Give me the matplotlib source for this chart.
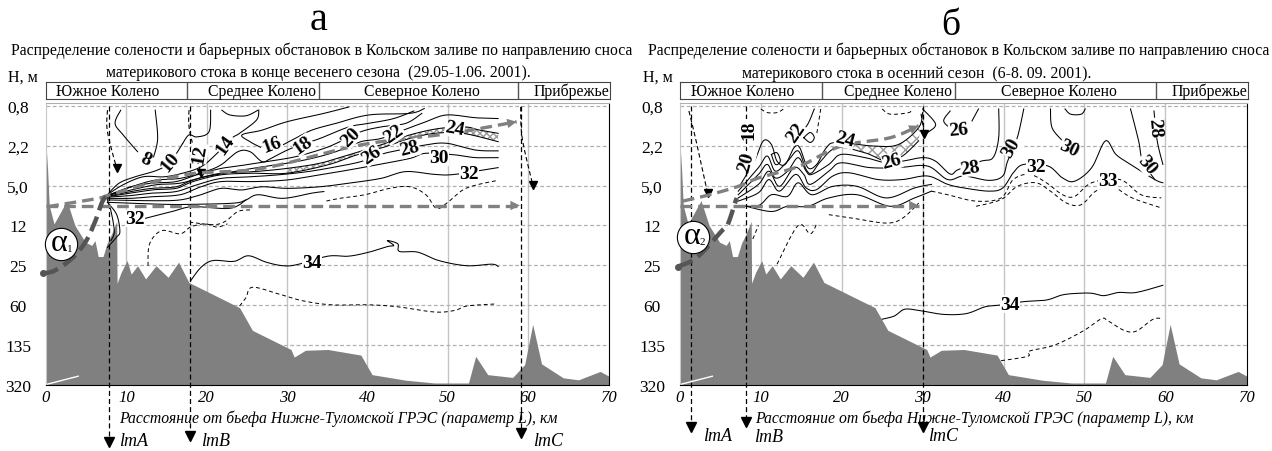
import numpy as np
import matplotlib
matplotlib.use("Agg")
import matplotlib.pyplot as plt

plt.rcParams['font.family'] = ['Liberation Serif', 'DejaVu Serif']

# Vertical scale: evenly spaced levels, labelled by depth
depth_labels = ['0,8', '2,2', '5,0', '12', '25', '60', '135', '320']
km_ticks = [0, 10, 20, 30, 40, 50, 60, 70]
zone_edges = [17.6, 34.0, 58.8]
zone_names = ['Южное Колено', 'Среднее Колено', 'Северное Колено', 'Прибрежье']
zone_centers = [7.7, 26.9, 46.8, 65.4]

terrain = [(0,.95),(.2,1.6),(.4,2.5),(1,2.96),(2.6,2.38),(3.6,3),(4.9,3.42),(5.7,3.5),(6.1,3.38),(6.5,3.78),
           (7.1,3.78),(7.6,3.45),(8.2,3.2),(8.8,2.9),(8.85,4.45),(9.34,4.18),(10.1,3.88),(10.6,4.22),(11.4,4.01),
           (12.4,4.34),(13.7,4.01),(15.2,4.3),(16.5,3.92),(17.8,4.43),(24.1,5.06),(25.7,5.63),(30.5,6.11),
           (30.9,6.3),(32.3,6.13),(35.1,6.11),(39.2,6.25),(40.6,6.74),(44.8,6.88),(48.4,6.95),(52.6,6.95),
           (53.5,6.28),(55,6.74),(58.1,6.81),(59.6,6.49),(60.6,5.48),(61.7,6.47),(64.4,6.82),(66.3,6.87),
           (69,6.66),(70.1,6.78)]
sliver = [(.15,6.98),(4,6.78)]

# Panel a: isohalines (km, level)
a_8a = [(9.3,.11),(8.6,.44),(9.6,.73),(11.4,1.15)]
a_8b = [(13.4,1.28),(13.9,.82),(13.6,.11)]
a_12 = [(20.5,.11),(20.3,.65),(18.8,.78),(17.8,.73),(17,.95)]
a_10 = [(7.65,2.23),(9.1,1.94),(11.1,1.78),(13.9,1.61),(15.5,1.4),(17,.95)]
a_b = [(21.9,.11),(22.9,.23),(24.9,.25),(26.4,.11)]
a_c = [(26.5,.11),(26.2,.36),(24.1,.69),(23.1,.82),(21.1,1.23),(19.3,1.53),(17,1.69),(14.7,1.78),(12.1,1.78),(9.6,1.98),(7.65,2.23)]
a_d = [(37.7,.03),(34.6,.19),(30,.4),(26.9,.61),(24.4,.73),(25.4,.9),(26.7,1.04)]
a_e = [(29.5,.98),(31,.82),(33.1,.61),(36.1,.44),(40.2,.23),(45.3,.19),(47.1,.07)]
a_f = [(45.8,.13),(43.3,.32),(40.2,.44),(37.7,.53),(34.1,.82),(30.5,1.07),(28,1.32),(26.9,1.4),(25.4,1.15),(23.9,1.15),(21.8,1.48),(19.8,1.65),(16.7,1.82),(13.7,1.86),(11.1,2),(7.65,2.25)]
a_g = [(46.8,.19),(44.8,.44),(41.7,.53),(39.2,.65),(36.6,.9),(34.6,1.07),(31,1.28),(27.4,1.4),(24.9,1.48),(21.8,1.57),(18.8,1.73),(16.2,1.9),(13.2,1.94),(10.6,2.03),(7.65,2.25)]
a_h = [(56.3,.32),(53.5,.3),(49.9,.23),(47.3,.4),(44.5,.61),(41.7,.82),(39.2,.9),(36.1,1.15),(33.1,1.32),(30,1.44),(26.9,1.53),(23.4,1.65),(19.8,1.78),(16.7,1.94),(13.7,1.98),(10.6,2.11),(7.65,2.25)]
a_i = [(56.3,.69),(54,.61),(52.2,.53),(48.9,.57),(45.3,.73),(41.7,.98),(37.7,1.23),(34.1,1.44),(30,1.57),(25.9,1.65),(21.8,1.69),(18.3,1.86),(16.2,2.03),(13.2,2.07),(10.6,2.15),(7.65,2.27)]
a_j = [(56.3,.9),(51.9,.69),(48.4,.69),(45.3,.82),(42.2,1.03),(38.7,1.23),(35.1,1.48),(30,1.69),(25.9,1.69),(21.8,1.73),(18.3,1.9),(16.2,2.07),(13.2,2.11),(7.65,2.28)]
a_k = [(56.3,1.13),(53.5,1.11),(49.9,.94),(47.3,.98),(44,1.11),(42.2,1.19),(39.2,1.4),(36.1,1.53),(32.6,1.65),(29,1.73),(25.4,1.78),(21.8,1.82),(18.8,1.98),(16.2,2.15),(13.2,2.19),(10.6,2.25),(7.65,2.29)]
a_l = [(56.3,1.3),(53.5,1.3),(50.9,1.23),(47.3,1.19),(45.3,1.32),(41.2,1.48),(37.7,1.61),(34.1,1.73),(30,1.86),(25.9,1.9),(21.8,1.9),(19.3,2.03),(16.7,2.23),(13.2,2.28),(10.6,2.32),(7.65,2.32)]
a_m = [(56.3,1.55),(50.9,1.72),(48.4,1.72),(44.8,1.65),(41.7,1.82),(37.7,1.94),(34.1,2.03),(30,2.07),(26.9,2.03),(24.4,2.11),(21.8,2.07),(19.3,2.23),(16.7,2.36),(13.2,2.38),(7.65,2.36)]
a_n = [(34.6,2.15),(33.1,2.19),(29.5,2.32),(26.4,2.23),(24.9,2.36),(23.4,2.44),(18.3,2.47),(14.7,2.47),(7.65,2.42)]
a_32 = [(12.4,2.82),(15.7,2.65),(18.3,2.53),(22.9,2.57),(24.9,2.36)]
a_b1 = [(7.65,2.42),(8.8,2.73),(9.2,3.15),(8.8,3.29),(7.65,3.55)]
a_b2 = [(7.65,2.36),(8.1,2.65),(8.5,3.15),(8.1,3.38)]
a_34 = [(18,4.39),(19.3,4.05),(20.8,3.88),(23.4,3.9),(25.2,3.76),(27.4,3.92),(29.5,4.01),(31.3,3.98),(35.1,3.77),(37.7,3.77),(40.2,3.67),(42.5,3.53),(43.3,3.5),(42.5,3.38),(43.8,3.46),(44,3.65),(46.3,3.67),(48.9,3.88),(52.4,4.01),(55.5,3.97),(56.3,4.03)]
a_d1 = [(56,1.88),(53.7,1.98),(51.9,2.11),(49.9,2.44),(48.6,2.57),(47.3,2.23),(45.3,2.03),(42.8,2.07),(39.7,2.23),(36.6,2.32),(34.6,2.4)]
a_d2 = [(25.4,2.61),(23.9,2.65),(22.3,2.9),(20.8,2.98),(18,2.92)]
a_d3 = [(12.7,4.01),(12.9,3.46),(14.4,3.13),(16.7,3.21),(18,3.04),(19.8,2.96),(21.3,3.04),(22.6,2.96)]
a_d4 = [(24.1,5.02),(24.9,4.81),(25.7,4.55),(29,4.72),(32,4.89),(35.6,4.99),(40.2,4.99),(43.8,5.04),(48.4,5.17),(50.9,5.13),(52.4,5.02),(55.8,4.97)]
a_labels = ['8','10','12','14','16','18','20','22','24','26','28','30','32','32','34']
a_label_x = [12.4,15.5,19.1,22.3,28.2,32,37.9,43.3,50.9,40.5,45.3,48.9,52.7,11.1,33.1]
a_label_y = [1.33,1.4,1.19,.96,.98,.98,.78,.69,.57,1.23,1.07,1.3,1.69,2.82,3.92]
a_label_rot = [-25,50,80,55,20,35,45,35,-10,35,15,0,0,0,0]
a_lm_x = [7.9,17.9,59.1]
a_lm_tip = [8.42,8.28,8.2]
a_lm_names = ['lmA','lmB','lmC']
a_lm_text_x = [9.1,19.3,60.6]
a_lm_text_y = [8.4,8.4,8.4]
a_inner1 = [(7.65,.11),(7.65,.65),(8.8,1.57)]
a_inner2 = [(17.8,.11),(17.9,.65),(19.3,1.69)]
a_inner3 = [(59.1,.03),(59.3,.82),(60.6,1.98)]
a_flow_h = [(0,2.5),(59,2.5)]
a_flow_up = [(.15,2.53),(6.5,2.32),(8,2.23),(17.2,1.73),(26.9,1.57),(39.2,.98),(50.4,.69),(58.6,.4)]
a_alpha_line = [(-.35,4.2),(1.1,4.13),(3.2,3.83),(4.9,3.42),(6.1,2.91),(7,2.41),(7.65,2.25)]
a_alpha_at = (1.84,3.46)

# Panel b: isohalines (km, level)
b_w1 = [(7.5,1.97),(9.2,1.39),(10.3,.88),(11.3,.97),(12,1.39),(13,1.47),(14.1,1.05),(14.8,1.05),(15.8,1.55),(16.9,1.47),(18.1,1.05),(19.4,.92),(24,1.01),(27,.97),(29.5,.55),(30,.17)]
b_w2 = [(7.2,2.14),(9.7,1.55),(10.8,1.26),(11.8,1.64),(13.3,1.39),(14.6,1.13),(15.6,1.6),(16.3,1.68),(17.4,1.39),(19.4,1.05),(22.9,1.18),(25.5,1.39),(27.5,1.26),(29.5,.88)]
b_w3 = [(7.2,2.23),(9.7,1.72),(10.8,1.47),(11.8,1.81),(13.3,1.64),(14.6,1.3),(15.6,1.64),(16.3,1.72),(18.4,1.47),(19.9,1.22),(22.9,1.3),(25.5,1.43),(27.5,1.39),(30,1.3),(31.6,1.39),(33.4,1.71),(34.4,1.6),(37.2,1.39),(38.7,1.3),(39.4,.8),(39.4,.08)]
b_w4 = [(7.2,2.31),(9.7,1.97),(11,1.64),(12.3,2.02),(14.1,1.55),(15.3,1.72),(16.1,1.97),(18.4,1.64),(19.9,1.43),(23.5,1.55),(27,1.55),(30.6,1.51),(33.1,1.85),(35.1,1.76),(38.2,1.87),(39.9,1.76),(40.5,1.39),(41.7,.8),(42.5,.08)]
b_w5 = [(7.2,2.39),(9.7,2.18),(11,1.85),(12.3,2.14),(14.3,1.72),(15.6,2.06),(16.9,2.1),(18.9,1.76),(20.9,1.68),(24.5,1.85),(27.5,1.85),(30.6,1.76),(33.1,1.97),(35.1,2.06),(38.2,2.14),(39.9,2.06),(41.2,1.68),(42.5,1.47),(45.5,1.51),(47.3,1.81),(48.8,1.89),(50.9,1.55),(52.6,.88),(53.9,1.22),(55.7,1.47),(58.7,1.85),(59.7,1.93)]
b_w6 = [(7.2,2.5),(9.7,2.5),(11.3,2.23),(13.3,2.27),(14.6,1.93),(16.3,2.23),(18.9,2.02),(21.9,2.02),(25.5,2.31),(29,2.06),(31.1,1.97)]
b_w7 = [(8.2,2.52),(11.3,2.65),(13.3,2.52),(15.8,2.52),(18.4,2.31),(21.9,2.23),(26,2.52),(29,2.31),(31.1,2.14)]
b_t5 = [(16.6,.08),(15.8,.46),(14.8,.71)]
b_loop1 = [(11.3,1.22),(12,1.18),(12.4,1.39),(11.8,1.47),(11.3,1.22)]
b_loop2 = [(15.3,.8),(16.1,.67),(16.6,.8),(16.1,.92),(15.3,.8)]
b_26a = [(36.9,.08),(36.1,.38)]
b_26b = [(33.4,.13),(32.6,.38),(33.6,.59)]
b_29 = [(30,.08),(31.6,.46),(30.6,.67)]
b_30a = [(45.8,.08),(46,.55),(47.3,.88)]
b_bulge = [(47.6,.08),(48.3,.21),(49.6,.21),(50.1,.08)]
b_28a = [(55.7,.08),(56.7,.88),(57.2,1.39),(58.7,1.85)]
b_28b = [(58.6,.13),(59,.88),(59.7,1.47)]
b_34 = [(25,5.35),(26.5,5.27),(27.8,5.1),(29.8,5.14),(32.6,5.23),(35.4,5.21),(37.7,5.04),(39.4,5),(42.5,4.91),(45.3,4.87),(47.3,4.74),(49.3,4.7),(50.9,4.7),(52.4,4.76),(54.2,4.68),(56.4,4.68),(59.7,4.5)]
b_d1 = [(31.1,2.14),(33.1,2.23),(36.6,2.39),(39.7,2.31),(41.2,1.85),(43.2,1.72),(45.3,1.93),(47.3,2.23),(48.8,2.27),(50.9,1.93),(54.4,1.85),(57,2.23),(59.5,2.31)]
b_d2 = [(36.6,2.52),(39.7,2.35),(41.7,2.02),(44,1.93),(45.8,2.14),(47.8,2.44),(49.6,2.48),(51.4,2.14),(53.4,2.02),(55.9,2.31),(59.5,2.56)]
b_d3 = [(18.4,2.73),(21.4,2.82),(25.5,2.94),(27.5,2.82),(29.5,2.44)]
b_d4 = [(12,3.97),(14.6,3),(16.1,3.21),(16.9,2.96)]
b_d5 = [(9,3.34),(9.7,3)]
b_d6 = [(10,.08),(10.8,.17),(12,.17),(12.8,.08)]
b_d7 = [(17.4,.08),(16.9,.71)]
b_d8 = [(25,.08),(26,.21),(28.3,.17),(28.5,.08)]
b_d9 = [(39.7,6.39),(43,6.28),(43.2,6.15),(46.3,6),(49.8,5.65),(52.1,5.34),(52.9,5.39),(54.9,5.63),(56.4,5.65),(58.5,5.35),(59.7,5.34)]
b_labels = ['18','20','22','24','26','26','28','30','30','32','33','28','30','34']
b_label_x = [8.5,8.2,14.3,20.4,26.2,34.4,35.9,41,48.1,44,52.9,58.7,57.7,40.8]
b_label_y = [.59,1.39,.67,.84,1.39,.59,1.55,1.05,1.05,1.51,1.87,.55,1.47,4.97]
b_label_rot = [90,75,55,-15,15,5,10,60,-25,0,0,-85,-50,0]
b_lm_x = [1.3,8.2,30]
b_lm_tip = [8.05,7.92,8.05]
b_lm_names = ['lmA','lmB','lmC']
b_lm_text_x = [2.9,9.2,30.7]
b_lm_text_y = [8.27,8.3,8.27]
b_inner1 = [(1.1,.13),(1.9,.8),(3.4,2.18)]
b_inner2 = [(29.8,.2),(30.2,.7)]
b_flow_h = [(0,2.5),(29.5,2.5)]
b_flow_up = [(.35,2.39),(3.65,2.23),(7.2,2.02),(9.7,1.81),(14.8,1.51),(19.9,1.01),(26,.8),(29.5,.5)]
b_alpha_line = [(-.25,4.03),(2.1,3.8),(5.2,3.13),(5.9,2.98),(7,2.31)]
b_alpha_at = (1.6,3.29)

a_solid = [a_8a,a_8b,a_12,a_10,a_b,a_c,a_d,a_e,a_f,a_g,a_h,a_i,a_j,a_k,a_l,a_m,a_n,a_32,a_b1,a_b2,a_34]
a_dashed = [a_d1,a_d2,a_d3,a_d4]
b_solid = [b_w1,b_w2,b_w3,b_w4,b_w5,b_w6,b_w7,b_t5,b_loop1,b_loop2,b_26a,b_26b,b_29,b_30a,b_bulge,b_28a,b_28b,b_34]
b_dashed = [b_d1,b_d2,b_d3,b_d4,b_d5,b_d6,b_d7,b_d8,b_d9]

W, H = 1272, 452
fig = plt.figure(figsize=(W/100, H/100), dpi=100)
GRAY = '#808080'
DARK = '#555555'


def xy(p):
    a = np.array(p, dtype=float)
    return a[:, 0], a[:, 1]


def curve(p, n=10):
    """Draw a digitised isoline as a smooth Catmull-Rom curve through its points."""
    a = np.array(p, dtype=float)
    if len(a) < 3:
        return a[:, 0], a[:, 1]
    b = np.vstack([a[0], a, a[-1]])
    out = []
    for i in range(1, len(b) - 2):
        p0, p1, p2, p3 = b[i-1], b[i], b[i+1], b[i+2]
        for t in np.linspace(0, 1, n, endpoint=False):
            out.append(0.5*((2*p1) + (p2-p0)*t + (2*p0-5*p1+4*p2-p3)*t*t + (3*p1-p0-3*p2+p3)*t**3))
    out.append(a[-1])
    out = np.array(out)
    return out[:, 0], out[:, 1]


def panel(x0, x1, solid, dashed, labels, lx, ly, lr, lm_x, lm_tip, lm_names, lm_tx, lm_ty,
          inner, flow_h, flow_up, alpha_line, alpha_at, sub, band, band_from, hatch):
    ax = fig.add_axes([x0/W, 1-386/H, (x1-x0)/W, 282/H])
    ax.set_xlim(0, 70.1)
    ax.set_ylim(7, -0.07)
    ax.set_xticks(km_ticks)
    ax.set_xticklabels([str(k) for k in km_ticks], style='italic', fontsize=12)
    ax.set_yticks(range(8))
    ax.set_yticklabels(depth_labels, fontsize=12.5, ha='center')
    ax.tick_params(axis='x', length=0, pad=3)
    ax.tick_params(axis='y', length=0, pad=20)
    for k in km_ticks[1:-1]:
        ax.axvline(k, color='#c4c4c4', lw=1, zorder=1)
    for lev in range(7):
        ax.axhline(lev, color='#b0b0b0', lw=0.9, ls=(0, (3, 2)), zorder=1)
    for s, c in (('left', '#c8c8c8'), ('top', '#b0b0b0'), ('right', 'black'), ('bottom', 'black')):
        ax.spines[s].set_color(c)
    tx, ty = xy(terrain)
    ax.fill_between(tx, ty, 7, color=GRAY, lw=0, zorder=1.5)
    sx, sy = xy(sliver)
    ax.plot(sx, sy, color='white', lw=1, zorder=1.6)

    ux, uy = curve(band[0]); dx, dy = curve(band[1])
    m1, m2 = ux >= band_from, dx >= band_from
    ax.fill(np.r_[ux[m1], dx[m2][::-1]], np.r_[uy[m1], dy[m2][::-1]], facecolor='none',
            edgecolor='#9a9a9a', hatch=hatch, lw=0, zorder=1.8)

    for line in solid:
        ax.plot(*curve(line), color='black', lw=0.75, zorder=2)
    for line in dashed:
        ax.plot(*curve(line), color='black', lw=0.7, ls=(0, (4, 3)), zorder=2)

    for x, tip in zip(lm_x, lm_tip):
        ax.plot([x, x], [0, tip], color='black', lw=0.9, ls=(0, (4, 2.5)), clip_on=False, zorder=3)
        ax.plot([x], [tip], marker='v', ms=7, color='black', clip_on=False, zorder=3)
    for n, x, y in zip(lm_names, lm_tx, lm_ty):
        ax.text(x, y, n, style='italic', fontsize=13, va='center', ha='left', clip_on=False)
    for line in inner:
        lx_, ly_ = curve(line)
        ax.plot(lx_, ly_, color='black', lw=0.8, ls=(0, (4, 2.5)), zorder=3)
        ax.plot(lx_[-1:], ly_[-1:], marker='v', ms=5.5, color='black', zorder=3)

    for line in (flow_h, flow_up):
        fx, fy = curve(line)
        ax.plot(fx, fy, color=GRAY, lw=2.4, ls=(0, (3.5, 1.8)), zorder=4, clip_on=False)
        ax.annotate('', xy=(fx[-1], fy[-1]), xytext=(fx[-2], fy[-2]),
                    arrowprops=dict(arrowstyle='-|>', color=GRAY, lw=0, mutation_scale=17, shrinkA=0, shrinkB=0), zorder=4)
    ax.plot(*curve(alpha_line), color=DARK, lw=3.2, ls=(0, (3.5, 1.5)), clip_on=False, zorder=4)
    ax.plot([alpha_line[0][0]], [alpha_line[0][1]], 'o', ms=4, color=DARK, clip_on=False, zorder=4)

    ax.scatter([alpha_at[0]], [alpha_at[1]], s=540, facecolor='white', edgecolor='black', lw=0.8, clip_on=False, zorder=5)
    ax.text(alpha_at[0]-.15, alpha_at[1]-.03, '\u03b1', fontsize=23, ha='center', va='center', zorder=6, clip_on=False)
    ax.text(alpha_at[0]+1.15, alpha_at[1]+.12, sub, fontsize=8, ha='center', va='center', zorder=6, clip_on=False)

    for t, x, y, r in zip(labels, lx, ly, lr):
        ax.text(x, y, t, fontsize=14, fontweight='bold', rotation=r,
                ha='center', va='center', zorder=4.5,
                bbox=dict(facecolor='white', edgecolor='none', pad=0.2))
    ax.text(36.4, 7.83, 'Расстояние от бьефа Нижне-Туломской ГРЭС (параметр L), км',
            style='italic', fontsize=11.3, ha='center', va='center', clip_on=False, zorder=2.5)

    hd = fig.add_axes([x0/W, 1-100/H, (x1+1-x0)/W, 17/H], facecolor='white')
    hd.set_xlim(0, 70.2)
    hd.set_ylim(0, 1)
    hd.set_xticks([]); hd.set_yticks([])
    for e in zone_edges:
        hd.axvline(e, color='#555555', lw=1)
    for s in hd.spines.values():
        s.set_color('#444444')
    for n, c in zip(zone_names, zone_centers):
        hd.text(c, 0.24, n, fontsize=11.3, ha='center', va='baseline')
    return ax


panel(46, 609, a_solid, a_dashed, a_labels, a_label_x, a_label_y, a_label_rot, a_lm_x, a_lm_tip, a_lm_names,
      a_lm_text_x, a_lm_text_y, [a_inner1, a_inner2, a_inner3], a_flow_h, a_flow_up, a_alpha_line, a_alpha_at,
      '1', (a_i, a_j), 30, 'xxxxx')
panel(680, 1247, b_solid, b_dashed, b_labels, b_label_x, b_label_y, b_label_rot, b_lm_x, b_lm_tip, b_lm_names,
      b_lm_text_x, b_lm_text_y, [b_inner1, b_inner2], b_flow_h, b_flow_up, b_alpha_line, b_alpha_at,
      '2', (b_w1, b_w2), 19.4, 'xxx')


def ftext(x, y, s, **k):
    fig.text(x/W, 1-y/H, s, ha='center', va='center', **k)


ftext(319, 21, 'а', fontsize=29)
ftext(951, 26, 'б', fontsize=27)
line1 = 'Распределение солености и барьерных обстановок в Кольском заливе по направлению сноса'
ftext(322, 51, line1, fontsize=11.3)
ftext(959, 51, line1, fontsize=11.3)
ftext(318, 73, 'материкового стока в конце весенего сезона  (29.05-1.06. 2001).', fontsize=11.3)
ftext(917, 74, 'материкового стока в осенний сезон  (6-8. 09. 2001).', fontsize=11.3)
ftext(23, 78, 'Н, м', fontsize=11.5)
ftext(658, 78, 'Н, м', fontsize=11.5)

fig.savefig('out.png', dpi=100)
